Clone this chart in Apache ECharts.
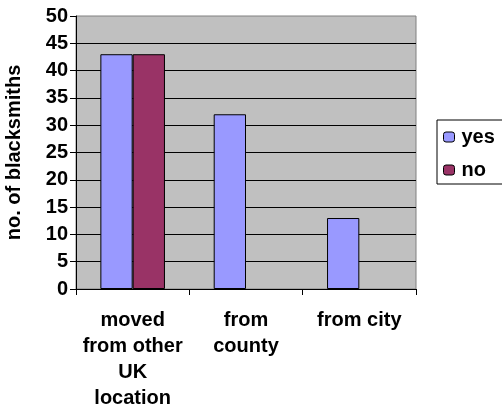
<!DOCTYPE html>
<html>
<head>
<meta charset="utf-8">
<script src="https://cdn.jsdelivr.net/npm/echarts@6/dist/echarts.min.js"></script>
<style>
  html, body { margin: 0; padding: 0; background: #ffffff; }
  #chart { width: 502px; height: 409px; }
</style>
</head>
<body>
<div id="chart"></div>
<script>
// Where the blacksmiths came from
const categories = ['moved\nfrom other\nUK\nlocation', 'from\ncounty', 'from city'];
const yesValues = [43, 32, 13];
const noValues = [43, null, null];
const yTicks = { min: 0, max: 50, interval: 5 };

const FONT = 'Arial, "Liberation Sans", sans-serif';

const chart = echarts.init(document.getElementById('chart'), null, { renderer: 'canvas' });

chart.setOption({
  animation: false,
  backgroundColor: '#ffffff',
  textStyle: { fontFamily: FONT },
  grid: {
    left: 76, top: 16, width: 340, bottom: 120,
    containLabel: false,
    outerBoundsMode: 'none',
    show: true,
    backgroundColor: '#c0c0c0',
    borderColor: '#808080',
    borderWidth: 1
  },
  legend: {
    orient: 'vertical',
    left: 437, top: 120,
    padding: [7, 16, 4, 6],
    borderColor: '#000000',
    borderWidth: 1,
    itemWidth: 11, itemHeight: 10,
    itemGap: 13,
    itemStyle: { borderColor: '#000000', borderWidth: 1 },
    textStyle: { fontFamily: FONT, fontSize: 20, fontWeight: 'bold', color: '#000000', padding: [0, 0, 0, 2] },
    data: ['yes', 'no']
  },
  xAxis: {
    type: 'category',
    data: categories,
    axisLine: { lineStyle: { color: '#000000', width: 1 } },
    axisTick: { show: true, length: 6, lineStyle: { color: '#000000' } },
    axisLabel: {
      color: '#000000', fontFamily: FONT, fontSize: 20, fontWeight: 'bold',
      lineHeight: 26, margin: 18, interval: 0
    },
    splitLine: { show: false }
  },
  yAxis: {
    type: 'value',
    min: yTicks.min, max: yTicks.max, interval: yTicks.interval,
    name: 'no. of blacksmiths',
    nameLocation: 'middle',
    nameRotate: 90,
    nameGap: 52,
    nameTextStyle: { color: '#000000', fontFamily: FONT, fontSize: 20, fontWeight: 'bold' },
    axisLine: { show: true, lineStyle: { color: '#000000', width: 1 } },
    axisTick: { show: true, length: 6, lineStyle: { color: '#000000' } },
    axisLabel: { color: '#000000', fontFamily: FONT, fontSize: 20, fontWeight: 'bold', margin: 8 },
    splitLine: { show: true, showMinLine: false, showMaxLine: false, lineStyle: { color: '#000000', width: 1 } }
  },
  series: [
    {
      name: 'yes', type: 'bar', data: yesValues,
      barGap: 0, barCategoryGap: '43%',
      itemStyle: { color: '#9999ff', borderColor: '#000000', borderWidth: 1 }
    },
    {
      name: 'no', type: 'bar', data: noValues,
      barGap: 0, barCategoryGap: '43%',
      itemStyle: { color: '#993366', borderColor: '#000000', borderWidth: 1 }
    }
  ]
});
</script>
</body>
</html>
